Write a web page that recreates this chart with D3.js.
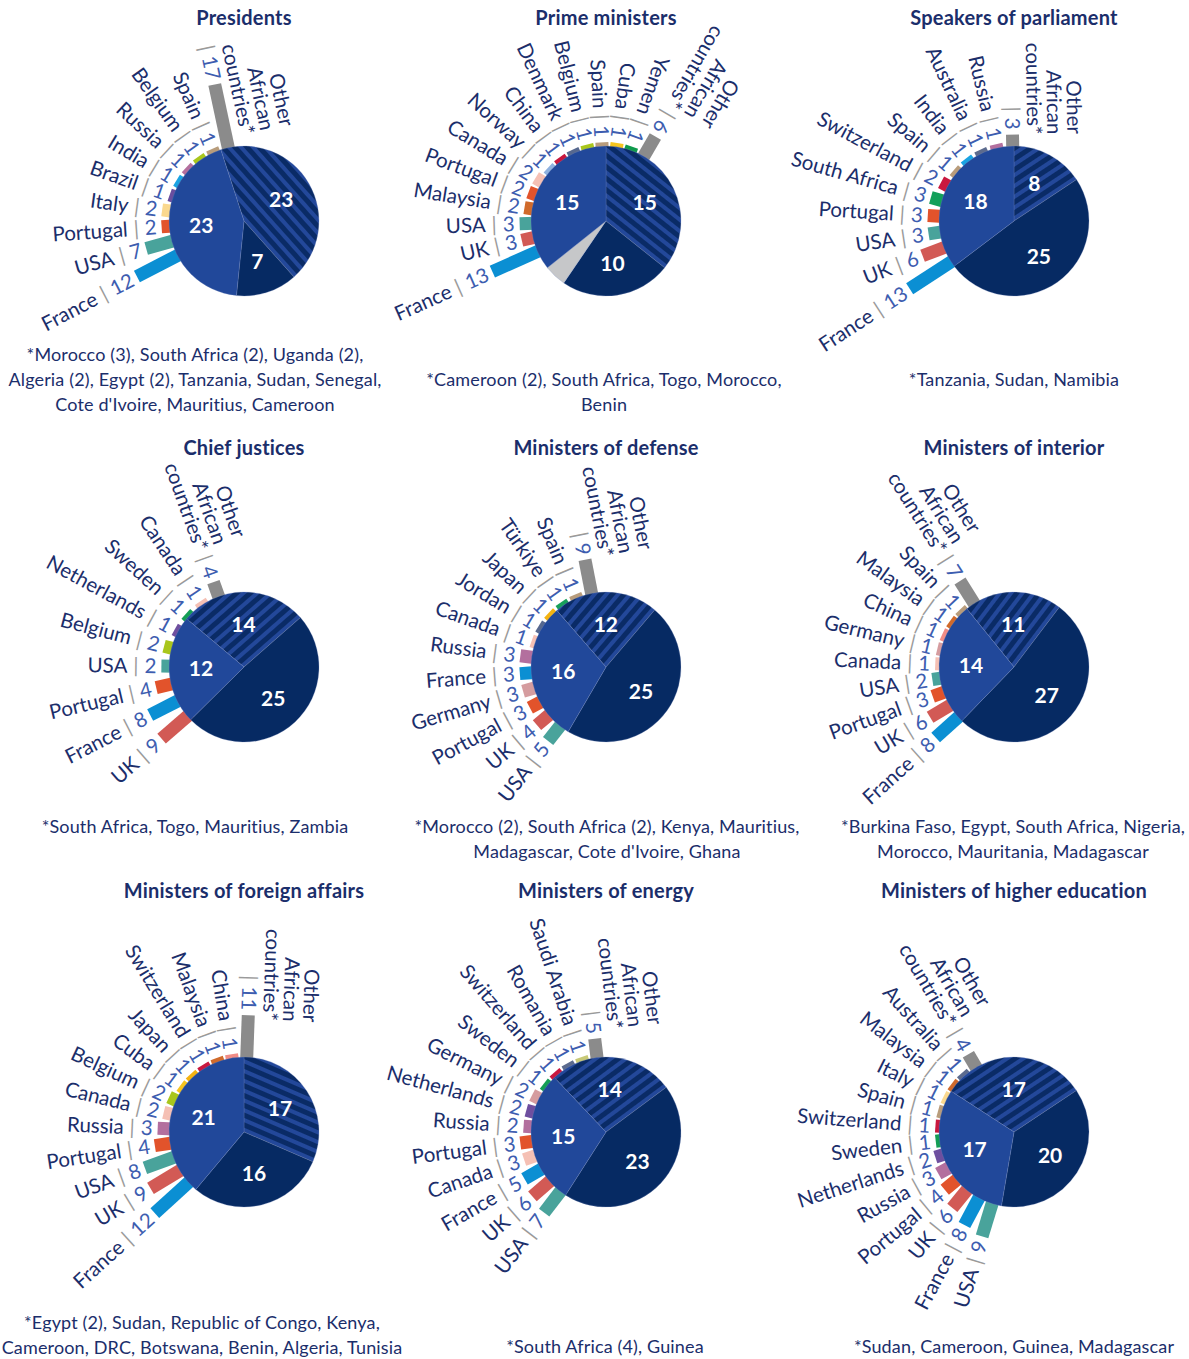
<!DOCTYPE html>
<html>
<head>
<meta charset="utf-8">
<script src="https://cdn.jsdelivr.net/npm/d3@7"></script>
<style>
  html, body { margin: 0; padding: 0; background: #fff; }
  svg { display: block; font-family: Lato, "Noto Sans", sans-serif; }
</style>
</head>
<body>
<svg id="chart" width="1189" height="1359"></svg>
<script>
// ---------- data ----------
const OTHER = "Other African countries*";

const titles = [
  "Presidents", "Prime ministers", "Speakers of parliament",
  "Chief justices", "Ministers of defense", "Ministers of interior",
  "Ministers of foreign affairs", "Ministers of energy", "Ministers of higher education"
];

// pie slices, in drawing order: hatched, dark, grey (unlabelled), medium
const pieHatched = [23, 15, 8, 14, 12, 11, 17, 14, 17];
const pieDark    = [7, 10, 25, 25, 25, 27, 16, 23, 20];
const pieGrey    = [0, 2, 0, 0, 0, 0, 0, 0, 0];
const pieMedium  = [23, 15, 18, 12, 16, 14, 21, 15, 17];

const presidentsCountries = ["France", "USA", "Portugal", "Italy", "Brazil", "India", "Russia", "Belgium", "Spain", OTHER];
const presidentsCounts    = [12, 7, 2, 2, 1, 1, 1, 1, 1, 17];

const primeMinistersCountries = ["France", "UK", "USA", "Malaysia", "Portugal", "Canada", "Norway", "China", "Denmark", "Belgium", "Spain", "Cuba", "Yemen", OTHER];
const primeMinistersCounts    = [13, 3, 3, 2, 2, 2, 1, 1, 1, 1, 1, 1, 1, 6];

const speakersCountries = ["France", "UK", "USA", "Portugal", "South Africa", "Switzerland", "Spain", "India", "Australia", "Russia", OTHER];
const speakersCounts    = [13, 6, 3, 3, 3, 2, 1, 1, 1, 1, 3];

const justicesCountries = ["UK", "France", "Portugal", "USA", "Belgium", "Netherlands", "Sweden", "Canada", OTHER];
const justicesCounts    = [9, 8, 4, 2, 2, 1, 1, 1, 4];

const defenseCountries = ["USA", "UK", "Portugal", "Germany", "France", "Russia", "Canada", "Jordan", "Japan", "Türkiye", "Spain", OTHER];
const defenseCounts    = [5, 4, 3, 3, 3, 3, 1, 1, 1, 1, 1, 9];

const interiorCountries = ["France", "UK", "Portugal", "USA", "Canada", "Germany", "China", "Malaysia", "Spain", OTHER];
const interiorCounts    = [8, 6, 3, 2, 1, 1, 1, 1, 1, 7];

const foreignCountries = ["France", "UK", "USA", "Portugal", "Russia", "Canada", "Belgium", "Cuba", "Japan", "Switzerland", "Malaysia", "China", OTHER];
const foreignCounts    = [12, 9, 8, 4, 3, 2, 2, 1, 1, 1, 1, 1, 11];

const energyCountries = ["USA", "UK", "France", "Canada", "Portugal", "Russia", "Netherlands", "Germany", "Sweden", "Switzerland", "Romania", "Saudi Arabia", OTHER];
const energyCounts    = [7, 6, 5, 3, 3, 2, 2, 2, 1, 1, 1, 1, 5];

const educationCountries = ["USA", "France", "UK", "Portugal", "Russia", "Netherlands", "Sweden", "Switzerland", "Spain", "Italy", "Malaysia", "Australia", OTHER];
const educationCounts    = [9, 8, 6, 4, 3, 2, 1, 1, 1, 1, 1, 1, 4];

const footnotes = [
  ["*Morocco (3), South Africa (2), Uganda (2),", "Algeria (2), Egypt (2), Tanzania, Sudan, Senegal,", "Cote d'Ivoire, Mauritius, Cameroon"],
  ["*Cameroon (2), South Africa, Togo, Morocco,", "Benin"],
  ["*Tanzania, Sudan, Namibia"],
  ["*South Africa, Togo, Mauritius, Zambia"],
  ["*Morocco (2), South Africa (2), Kenya, Mauritius,", "Madagascar, Cote d'Ivoire, Ghana"],
  ["*Burkina Faso, Egypt, South Africa, Nigeria,", "Morocco, Mauritania, Madagascar"],
  ["*Egypt (2), Sudan, Republic of Congo, Kenya,", "Cameroon, DRC, Botswana, Benin, Algeria, Tunisia"],
  ["*South Africa (4), Guinea"],
  ["*Sudan, Cameroon, Guinea, Madagascar"]
];

const panelCountries = [presidentsCountries, primeMinistersCountries, speakersCountries, justicesCountries,
  defenseCountries, interiorCountries, foreignCountries, energyCountries, educationCountries];
const panelCounts = [presidentsCounts, primeMinistersCounts, speakersCounts, justicesCounts,
  defenseCounts, interiorCounts, foreignCounts, energyCounts, educationCounts];

// ---------- styles ----------
const countryColor = {
  "France": "#0b8fd3", "UK": "#d25a55", "USA": "#49a39b", "Portugal": "#e2532b",
  "Italy": "#fad88e", "Brazil": "#6b4e9e", "India": "#1aa3e2", "Russia": "#b36f9e",
  "Belgium": "#a9c61b", "Spain": "#b89c7b", "Malaysia": "#d06a2b", "Canada": "#f5c0b4",
  "Norway": "#8fb1df", "China": "#f08c86", "Denmark": "#56688f", "Cuba": "#f6c51e",
  "Yemen": "#0f9a4b", "South Africa": "#12a05a", "Switzerland": "#c9183f",
  "Australia": "#5c6b8e", "Netherlands": "#6e4f9f", "Sweden": "#149e55",
  "Germany": "#d59c9f", "Jordan": "#56688f", "Japan": "#f4b311", "Türkiye": "#17a05a",
  "Romania": "#5c6b8e", "Saudi Arabia": "#c8c977", [OTHER]: "#8b8b8b"
};
const colorOverride = { 1: { "China": "#c8163c" } };

const NAVY = "#1b2e6b", VALUE_BLUE = "#3d5db0", SEP_GREY = "#9a9a9a";
const MEDIUM = "#21489a", DARK = "#062a63", HATCH_LIGHT = "#23489a", HATCH_DARK = "#0a2b66", GREY = "#c6c7c9";

// ---------- layout ----------
const colX = [244, 606, 1014];
const rowPieY = [221, 667, 1132];
const rowTitleY = [25, 455, 898];
const R = 75;          // pie radius
const UNIT = 3.8;      // bar length per person
const BAR_W = 13;
const GAP = 5;
const LINE = 20;
const LABEL_FS = 20.5;

// per panel: pie rotation, angle of first bar, angular step,
// layout of the "Other African countries*" label, footnote anchor
const layout = [
  { pieStart: -18, barStart: 242.6, barStep: 11.7, other: "split", otherNameR: 84, noteX: 195, noteY: 361 },
  { pieStart: 0, barStart: 246, barStep: 11.1, other: "inline", noteX: 604, noteY: 386 },
  { pieStart: 0, barStart: 237, barStep: 12.2, other: "split", otherNameR: 86, noteX: 1014, noteY: 386 },
  { pieStart: -50, barStart: 229, barStep: 13.9, other: "inline", noteX: 195, noteY: 833 },
  { pieStart: -41, barStart: 218, barStep: 11.9, other: "split", otherNameR: 108, noteX: 607, noteY: 833 },
  { pieStart: -39, barStart: 228, barStep: 11.1, other: "inline", noteX: 1013, noteY: 833 },
  { pieStart: 0, barStart: 227.7, barStep: 11.2, other: "split", otherNameR: 112, noteX: 202, noteY: 1329 },
  { pieStart: -43.5, barStart: 217.5, barStep: 11.3, other: "split", otherNameR: 101, noteX: 605, noteY: 1353 },
  { pieStart: -57, barStart: 197, barStep: 11.05, other: "inline", noteX: 1014, noteY: 1353 }
];

const svg = d3.select("#chart");
svg.append("rect").attr("width", 1189).attr("height", 1359).attr("fill", "#fff");
const defs = svg.append("defs");

const rScale = d3.scaleLinear().domain([0, 1]).range([R, R + UNIT]);
const rad = Math.PI / 180;

titles.forEach((title, i) => {
  const col = i % 3, row = Math.floor(i / 3);
  const cx = colX[col], cy = rowPieY[row];
  const L = layout[i];
  const countries = panelCountries[i], counts = panelCounts[i];

  // title
  svg.append("text")
    .attr("x", cx).attr("y", rowTitleY[row])
    .attr("text-anchor", "middle")
    .attr("font-size", 20).attr("font-weight", 700)
    .attr("letter-spacing", 0.2)
    .attr("fill", NAVY)
    .text(title);

  const g = svg.append("g").attr("transform", `translate(${cx},${cy})`);
  const barsG = g.append("g");
  const labelsG = g.append("g");
  const pieG = g.append("g");

  const aScale = d3.scaleLinear().domain([0, 1]).range([L.barStart, L.barStart + L.barStep]);

  countries.forEach((country, j) => {
    const v = counts[j];
    const a = aScale(j);
    const color = (colorOverride[i] && colorOverride[i][country]) || countryColor[country];
    const rot = a - 270; // x axis points toward the centre

    barsG.append("rect")
      .attr("transform", `rotate(${rot})`)
      .attr("x", -rScale(v)).attr("y", -BAR_W / 2)
      .attr("width", rScale(v) - (R - 4)).attr("height", BAR_W)
      .attr("fill", color);

    const item = labelsG.append("g").attr("transform", `rotate(${rot})`);
    const rIn = rScale(v) + GAP;
    const val = item.append("text")
      .attr("x", -rIn).attr("y", 0).attr("dy", "0.35em")
      .attr("text-anchor", "end").attr("font-size", LABEL_FS);
    val.append("tspan").attr("fill", SEP_GREY).text("|");
    val.append("tspan").attr("dx", 6).attr("fill", VALUE_BLUE).text(v);
    const wVal = val.node().getBBox().width;

    const nameEnd = -(rIn + wVal + 6);
    if (country === OTHER) {
      const lines = ["Other", "African", "countries*"];
      lines.forEach((ln, k) => {
        const inline = L.other === "inline";
        item.append("text")
          .attr("x", inline ? nameEnd : -L.otherNameR)
          .attr("y", inline ? -LINE * (lines.length - 1 - k) : -LINE * (lines.length - k) - 2)
          .attr("dy", "0.35em")
          .attr("text-anchor", "end").attr("font-size", LABEL_FS).attr("fill", NAVY)
          .text(ln);
      });
    } else {
      item.append("text")
        .attr("x", nameEnd).attr("y", 0).attr("dy", "0.35em")
        .attr("text-anchor", "end").attr("font-size", LABEL_FS).attr("fill", NAVY)
        .text(country);
    }
  });

  // pie
  const slices = [
    { key: "hatched", value: pieHatched[i], label: true },
    { key: "dark", value: pieDark[i], fill: DARK, label: true },
    { key: "grey", value: pieGrey[i], fill: GREY, label: false },
    { key: "medium", value: pieMedium[i], fill: MEDIUM, label: true }
  ].filter(d => d.value > 0);

  const pie = d3.pie().sort(null).value(d => d.value)
    .startAngle(L.pieStart * rad).endAngle(L.pieStart * rad + 2 * Math.PI);
  const arc = d3.arc().innerRadius(0).outerRadius(R);
  const labelArc = d3.arc().innerRadius(40).outerRadius(46);
  const arcs = pie(slices);

  // stripes run parallel to the edge between the hatched and the dark slice
  const hatchEnd = arcs[0].endAngle / rad;
  const pid = "hatch" + i;
  const pat = defs.append("pattern")
    .attr("id", pid).attr("patternUnits", "userSpaceOnUse")
    .attr("width", 9).attr("height", 9)
    .attr("patternTransform", `rotate(${hatchEnd - 90})`);
  pat.append("rect").attr("width", 9).attr("height", 9).attr("fill", HATCH_LIGHT);
  pat.append("rect").attr("width", 9).attr("height", 5).attr("fill", HATCH_DARK);
  slices[0].fill = `url(#${pid})`;

  pieG.selectAll("path").data(arcs).join("path")
    .attr("d", arc)
    .attr("fill", d => d.data.fill)
    .attr("stroke", "rgba(120,140,190,0.45)")
    .attr("stroke-width", 0.6);

  pieG.selectAll("text").data(arcs.filter(d => d.data.label)).join("text")
    .attr("transform", d => `translate(${labelArc.centroid(d)})`)
    .attr("text-anchor", "middle").attr("dy", "0.36em")
    .attr("font-size", 21).attr("font-weight", 700).attr("fill", "#fff")
    .text(d => d.data.value);

  // footnote
  footnotes[i].forEach((ln, k) => {
    svg.append("text")
      .attr("x", L.noteX).attr("y", L.noteY + k * 25)
      .attr("text-anchor", "middle").attr("font-size", 18).attr("letter-spacing", 0.15)
      .attr("fill", NAVY)
      .text(ln);
  });
});
</script>
</body>
</html>
